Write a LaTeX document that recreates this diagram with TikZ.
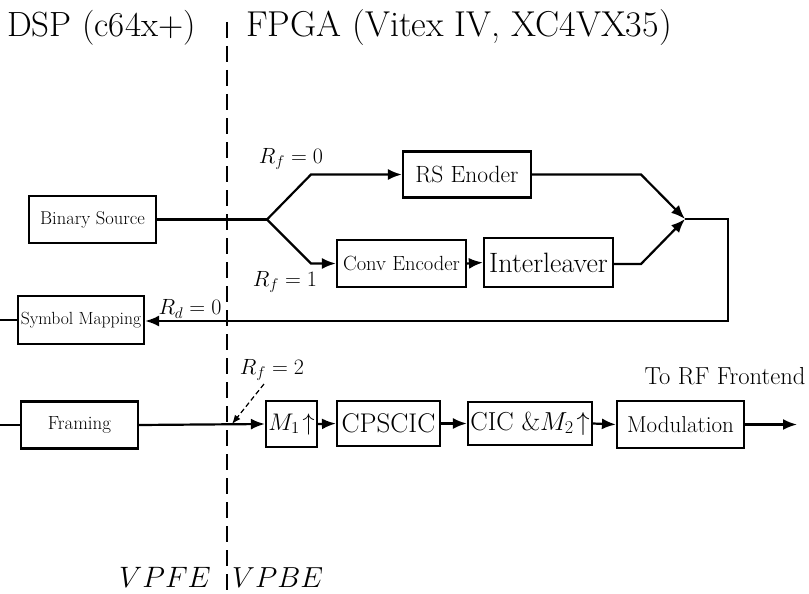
\RequirePackage{fix-cm}
\documentclass[tikz,border=0pt]{standalone}
\usetikzlibrary{arrows.meta}
\newcommand{\myfs}[1]{\fontsize{#1}{#1}\selectfont}
\begin{document}
\begin{tikzpicture}[x=1pt,y=-1pt,
  box/.style={draw, line width=2.2pt, inner sep=0pt, align=center},
  conn/.style={line width=2.2pt},
  arr/.style={conn, -{Latex[length=14pt,width=11pt]}},
  lbl/.style={inner sep=0pt},
  divider/.style={line width=2.4pt, dash pattern=on 16pt off 8pt},
  hint/.style={line width=1.2pt, dash pattern=on 5pt off 3pt, -{Latex[length=9pt,width=7pt]}}]
\useasboundingbox (0,0) rectangle (809,594);

% titles
\node[lbl, anchor=base west] (tdsp) at (7,37) {\myfs{35}DSP (c64x+)};
\node[lbl, anchor=base west] (tfpga) at (246,37) {\myfs{36}FPGA (Vitex IV, XC4VX35)};
\node[lbl, anchor=base west] (vpfe) at (119,587) {\myfs{29.5}$VPFE$};
\node[lbl, anchor=base west] (vpbe) at (232,587) {\myfs{29}$VPBE$};

% divider
\coordinate (dtop) at (227,22);
\coordinate (dbot) at (227,594);
\draw[divider] (dtop) -- (dbot);

% upper boxes
\node[box, minimum width=127pt, minimum height=47pt] (bin) at (92.5,219.5) {\myfs{18.5}Binary Source};
\node[box, minimum width=128pt, minimum height=46pt] (rs) at (467,174.5) {\myfs{23.5}RS Enoder};
\node[box, minimum width=129pt, minimum height=47pt] (conv) at (401.5,263.5) {\myfs{20.5}Conv Encoder};
\node[box, minimum width=129pt, minimum height=49pt] (il) at (548.5,262.5) {\myfs{28}Interleaver};
\node[box, minimum width=126pt, minimum height=48pt] (sym) at (81,320) {\myfs{17.6}Symbol Mapping};

% lower boxes
\node[box, minimum width=117pt, minimum height=47pt] (fr) at (79.5,425) {\myfs{19}Framing};
\node[box, minimum width=51pt, minimum height=46pt] (m1) at (291.5,424) {\myfs{24}$M_1\!\uparrow$};
\node[box, minimum width=103pt, minimum height=45pt] (cps) at (388.5,423.5) {\myfs{27}CPSCIC};
\node[box, minimum width=124pt, minimum height=43pt] (cic) at (530,423.5) {\myfs{26}CIC $\&M_2\!\uparrow$};
\node[box, minimum width=127pt, minimum height=47pt] (mod) at (680.5,424.5) {\myfs{23}Modulation};

% labels
\node[lbl] (lf0) at (291,159) {\myfs{22}$R_f=0$};
\node[lbl] (lf1) at (285,282) {\myfs{22}$R_f=1$};
\node[lbl] (ld0) at (190,309) {\myfs{22}$R_d=0$};
\node[lbl] (lf2) at (272,370) {\myfs{22}$R_f=2$};
\node[lbl] (rf) at (725,376) {\myfs{24.6}To RF Frontend};

% upper connectors
\coordinate (br) at (267,219.5);
\coordinate (up) at (311,174.5);
\coordinate (dn) at (311,263.5);
\coordinate (rsr) at (641,174.5);
\coordinate (ilr) at (641,264);
\coordinate (mg) at (685,219);
\coordinate (cr) at (728,219);
\coordinate (cd) at (728,321);
\coordinate (sl) at (0,320);
\draw[conn] (bin.east) -- (br);
\draw[arr] (br) -- (up) -- (rs.west);
\draw[arr] (br) -- (dn) -- (conv.west);
\draw[arr] (conv.east) -- (il.west);
\draw[arr] (rs.east) -- (rsr) -- (mg);
\draw[arr] (il.east |- ilr) -- (ilr) -- (mg);
\draw[arr] (mg) -- (cr) -- (cd) -- (cd -| sym.east);
\draw[conn] (sl) -- (sym.west);

% lower connectors
\coordinate (fl) at (0,425);
\coordinate (out) at (797,424.5);
\coordinate (hs) at (264,384);
\coordinate (he) at (232,424);
\draw[conn] (fl) -- (fr.west);
\draw[arr] (fr.east) -- (m1.west);
\draw[arr] (m1.east) -- (cps.west);
\draw[arr] (cps.east) -- (cic.west);
\draw[arr] (cic.east) -- (mod.west);
\draw[arr] (mod.east) -- (out);
\draw[hint] (hs) -- (he);
\end{tikzpicture}
\end{document}
